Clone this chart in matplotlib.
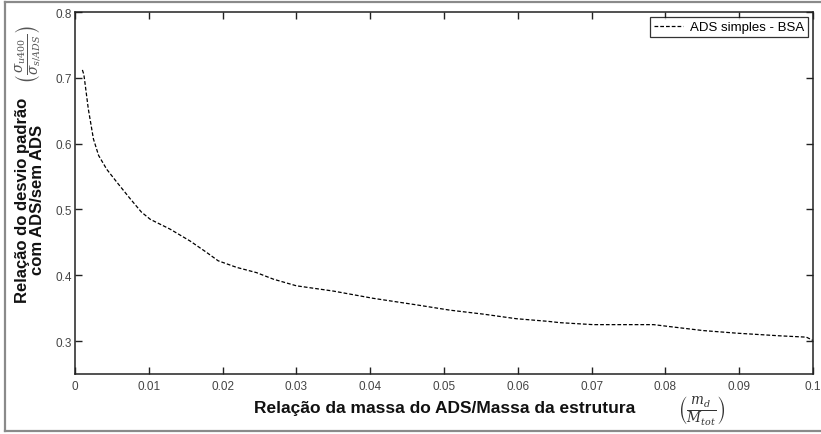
import numpy as np
import matplotlib as mpl
mpl.use('Agg')
import matplotlib.pyplot as plt
from matplotlib.lines import Line2D

# mass ratio md/Mtot vs. std-dev ratio (with/without ADS), simple ADS - BSA
mass_ratio = [0.0010, 0.0012, 0.0014, 0.0018, 0.0025, 0.0032, 0.0043, 0.0057,
              0.0075, 0.0090, 0.0102, 0.0129, 0.0156, 0.0178, 0.0194, 0.0219,
              0.0246, 0.0269, 0.0300, 0.0350, 0.0404, 0.0463, 0.0508, 0.0553,
              0.0598, 0.0641, 0.0657, 0.0702, 0.0784, 0.0806, 0.0851, 0.0897,
              0.0955, 0.0991, 0.1000]
std_ratio = [0.712, 0.705, 0.688, 0.653, 0.607, 0.582, 0.561, 0.541,
             0.516, 0.496, 0.485, 0.470, 0.452, 0.435, 0.422, 0.412,
             0.404, 0.394, 0.384, 0.376, 0.365, 0.355, 0.347, 0.341,
             0.334, 0.330, 0.328, 0.325, 0.325, 0.322, 0.316, 0.312,
             0.308, 0.306, 0.301]

xticks = np.arange(0, 0.1001, 0.01)
xticklabels = ['0', '0.01', '0.02', '0.03', '0.04', '0.05',
               '0.06', '0.07', '0.08', '0.09', '0.1']
yticks = [0.3, 0.4, 0.5, 0.6, 0.7, 0.8]
yticklabels = ['0.3', '0.4', '0.5', '0.6', '0.7', '0.8']

plt.rcParams['font.family'] = ['Liberation Sans', 'DejaVu Sans']
plt.rcParams['mathtext.fontset'] = 'dejavuserif'

W, H = 821, 435
fig = plt.figure(figsize=(W/100, H/100), dpi=100)

def px(x, y):
    # pixel position (from top-left) -> figure fraction
    return x/W, 1 - y/H

# outer frame
for xs, ys in [((5, 821), (3, 3)), ((5, 5), (3, 432)), ((5, 821), (432, 432))]:
    fig.add_artist(Line2D([xs[0]/W, xs[1]/W], [1-ys[0]/H, 1-ys[1]/H],
                          color='#8a8a8a', lw=1.6, transform=fig.transFigure))

l, b = px(75, 375)
r, t = px(813, 13)
ax = fig.add_axes([l, b, r-l, t-b])

ax.plot(mass_ratio, std_ratio, color='black', lw=0.9,
        linestyle=(0, (3, 1.6)), label='ADS simples - BSA')

ax.set_xlim(0, 0.1)
ax.set_ylim(0.25, 0.8)
ax.set_xticks(xticks)
ax.set_xticklabels(xticklabels)
ax.set_yticks(yticks)
ax.set_yticklabels(yticklabels)
ax.tick_params(direction='in', length=5, width=1.0, top=True, right=True,
               labelsize=8.5, labelcolor='#444444', color='#222222')
ax.tick_params(axis='x', pad=4)
ax.tick_params(axis='y', pad=2)
for s in ax.spines.values():
    s.set_linewidth(1.1)
    s.set_color('#222222')

# legend box in upper right
lx, ly = 808, 18
bx = (lx - 75) / (813 - 75)
by = (375 - ly) / (375 - 13)
leg = ax.legend(loc='upper right', bbox_to_anchor=(bx, by), fontsize=9.5,
                frameon=True, fancybox=False, handlelength=2.2,
                handletextpad=0.5, borderpad=0.3, borderaxespad=0)
leg.get_frame().set_edgecolor('black')
leg.get_frame().set_linewidth(0.9)

# axis titles
x0, y0 = px(30, 200)
fig.text(x0, y0, 'Relação do desvio padrão\ncom ADS/sem ADS', rotation=90,
         ha='center', va='center', multialignment='center',
         fontsize=12, fontweight='bold', color='#111111', linespacing=1.05)
x0, y0 = px(28, 55)
fig.text(x0, y0, r'$\left(\frac{\sigma_{u400}}{\sigma_{s/ADS}}\right)$',
         rotation=90, ha='center', va='center', fontsize=14, color='#555555')

x0, y0 = px(445, 409)
fig.text(x0, y0, 'Relação da massa do ADS/Massa da estrutura',
         ha='center', va='center', fontsize=12.5, fontweight='bold',
         color='#111111')
x0, y0 = px(702, 411)
fig.text(x0, y0, r'$\left(\frac{m_d}{M_{tot}}\right)$',
         ha='center', va='center', fontsize=14, color='#333333')

fig.savefig('out.png', dpi=100)
